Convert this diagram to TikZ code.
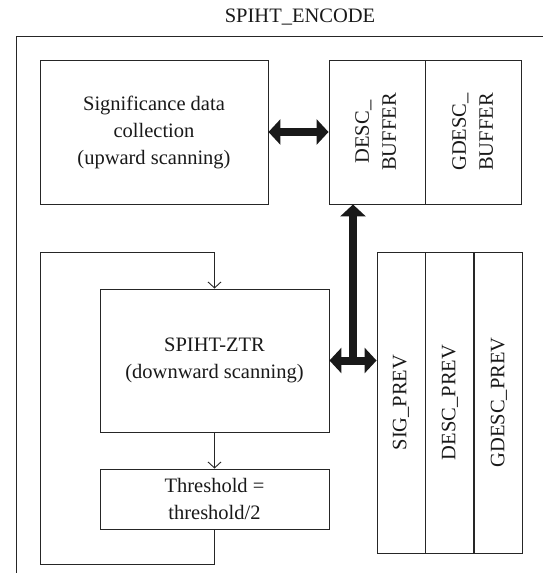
\documentclass[tikz,border=0pt]{standalone}
\usepackage{fontspec}
\setmainfont{Liberation Serif}
\usepackage{graphicx}
\usetikzlibrary{arrows.meta,calc}
\newcommand\dfont{\fontsize{20.5}{27}\selectfont}
\tikzset{
  frame/.style={draw=black!85, line width=0.9pt},
  box/.style={frame, inner sep=0pt, align=center, font=\dfont, text=black!90},
  flow/.style={draw=black!85, line width=0.9pt, -{Straight Barb[length=6pt,width=13pt]}},
  bus/.style={draw=black!90, line width=8pt, {Triangle[length=12pt,width=25pt]}-{Triangle[length=12pt,width=25pt]}},
  busend/.style={draw=black!90, line width=8pt, -{Triangle[length=12pt,width=25pt]}},
}
\begin{document}
\begin{tikzpicture}[x=1pt,y=-1pt]
\useasboundingbox (0,0) rectangle (543,573);
\node[anchor=base,font=\dfont,text=black!90] (title) at (300,22) {SPIHT\_ENCODE};
\draw[frame] (16,580) -- (16,36) -- (550,36);
% buffers and upward scan
\node[box,minimum width=228pt,minimum height=144pt] (sig) at (154,132) {Significance data\\collection\\(upward scanning)};
\node[box,minimum width=96pt,minimum height=144pt] (descbuf) at (377,132) {\rotatebox{90}{\begin{tabular}{@{}c@{}}DESC\_\\BUFFER\end{tabular}}};
\node[box,minimum width=96pt,minimum height=144pt,anchor=west] (gdescbuf) at (descbuf.east) {\rotatebox{90}{\begin{tabular}{@{}c@{}}GDESC\_\\BUFFER\end{tabular}}};
% downward scan loop
\node[box,minimum width=229pt,minimum height=143pt] (ztr) at (214.5,360.5) {SPIHT-ZTR\\(downward scanning)};
\node[box,minimum width=229pt,minimum height=60pt] (thr) at (214.5,499) {Threshold =\\threshold/2};
\node[box,minimum width=48pt,minimum height=301pt] (sigprev) at (401,402.5) {\rotatebox{90}{SIG\_PREV}};
\node[box,minimum width=48pt,minimum height=301pt,anchor=west] (descprev) at (sigprev.east) {\rotatebox{90}{DESC\_PREV}};
\node[box,minimum width=48pt,minimum height=301pt,anchor=west] (gdescprev) at (descprev.east) {\rotatebox{90}{GDESC\_PREV}};
\coordinate (loopbl) at (40,564);
\coordinate (looptl) at (40,252);
\draw[flow] (ztr) -- (thr);
\draw[flow] (thr.south) |- (loopbl) -- (looptl) -| (ztr.north);
% data buses
\draw[bus] (sig) -- (descbuf);
\draw[bus] (ztr.east) -- (ztr.east -| sigprev.west);
\coordinate (junc) at ($(ztr.east)!0.5!(ztr.east -| sigprev.west)$);
\draw[busend] (junc) -- (junc |- descbuf.south);
\end{tikzpicture}
\end{document}
